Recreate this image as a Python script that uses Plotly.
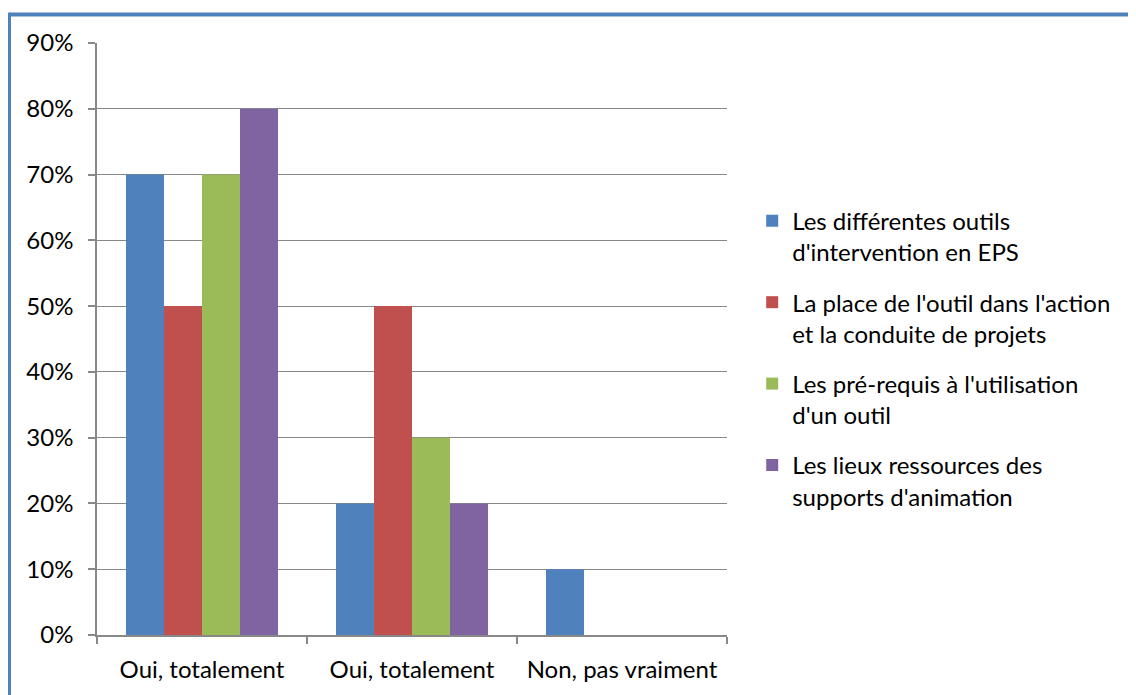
import plotly.graph_objects as go

# ---------------- data ----------------
categories = ["Oui, totalement", "Oui, totalement", "Non, pas vraiment"]
series_names = [
    "Les différentes outils<br>d'intervention en EPS",
    "La place de l'outil dans l'action<br>et la conduite de projets",
    "Les pré-requis à l'utilisation<br>d'un outil",
    "Les lieux ressources des<br>supports d'animation",
]
outils = [0.70, 0.20, 0.10]
place_outil = [0.50, 0.50, 0.00]
prerequis = [0.70, 0.30, 0.00]
lieux = [0.80, 0.20, 0.00]
colors = ["#4F81BD", "#C0504D", "#9BBB59", "#8064A2"]
y_ticks = [0, 0.1, 0.2, 0.3, 0.4, 0.5, 0.6, 0.7, 0.8, 0.9]

FONT = "Lato"
GRID = "#888888"

positions = list(range(len(categories)))

fig = go.Figure()
for name, vals, col in zip(series_names, [outils, place_outil, prerequis, lieux], colors):
    fig.add_trace(go.Bar(
        x=positions, y=vals, name=name, legendgroup=name,
        marker=dict(color=col, line=dict(width=0)),
    ))

# page body has an 8px margin, so the figure is a bit smaller than the window
fig.update_layout(
    width=1128, height=687,
    margin=dict(l=89, r=409, t=35, b=58),
    paper_bgcolor="white", plot_bgcolor="white",
    barmode="group", bargap=0.276, bargroupgap=0,
    font=dict(family=FONT, size=24, color="black"),
    legend=dict(
        x=1.04, y=0.737, xanchor="left", yanchor="top",
        font=dict(family=FONT, size=24, color="black"),
        valign="top", tracegroupgap=16, itemwidth=30,
        bgcolor="rgba(0,0,0,0)",
    ),
    showlegend=True,
)

fig.update_xaxes(
    range=[-0.5, 2.5], tickvals=positions, ticktext=categories,
    ticks="", showgrid=False, zeroline=False,
    showline=True, linecolor=GRID, linewidth=1.5,
    tickfont=dict(family=FONT, size=24), ticklabelstandoff=12,
    minor=dict(tickvals=[-0.5, 0.5, 1.5, 2.5], ticks="outside",
               ticklen=7, tickcolor=GRID, tickwidth=1.5, showgrid=False),
)
fig.update_yaxes(
    range=[0, 0.9], tickvals=y_ticks, tickformat=".0%",
    ticks="outside", ticklen=7, tickcolor=GRID, tickwidth=1.5,
    showgrid=True, gridcolor=GRID, gridwidth=1.2,
    zeroline=False, showline=True, linecolor=GRID, linewidth=1.5,
    tickfont=dict(family=FONT, size=24), ticklabelstandoff=10,
)

# blue chart frame (top and left edges)
fig.add_shape(type="line", xref="paper", yref="paper",
              x0=-0.1397, x1=1.66, y0=1.048, y1=1.048,
              line=dict(color="#4F81BD", width=4))
fig.add_shape(type="line", xref="paper", yref="paper",
              x0=-0.1397, x1=-0.1397, y0=1.051, y1=-0.11,
              line=dict(color="#4F81BD", width=4))

fig.write_html("out.html")
